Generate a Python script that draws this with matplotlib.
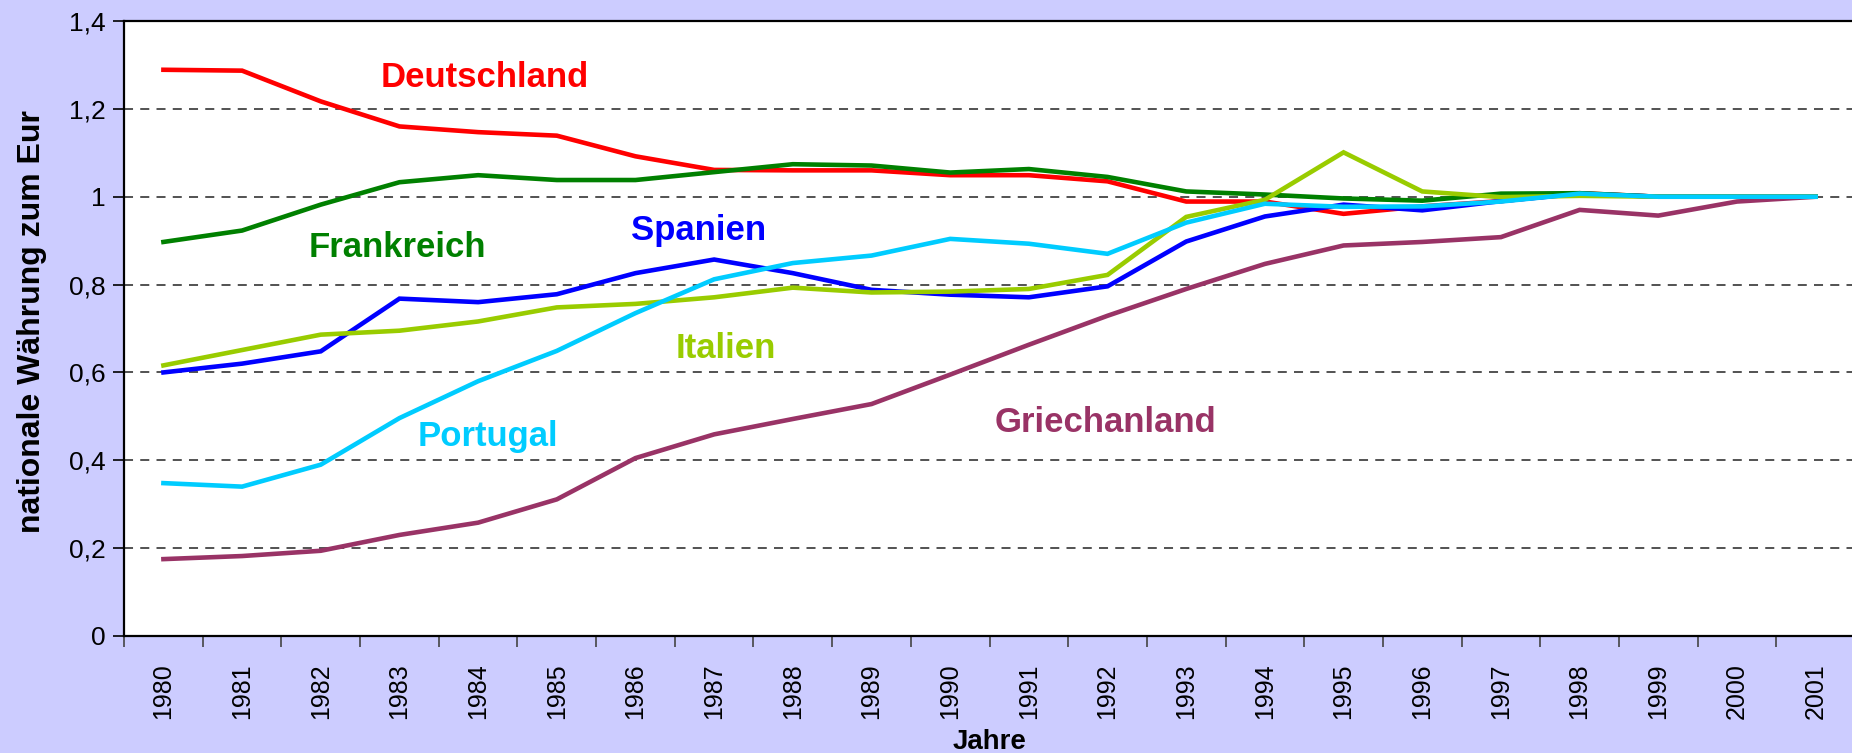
import matplotlib.pyplot as plt
import numpy as np

# Jahre (Kategorien)
jahre = [str(j) for j in range(1980, 2002)]

# Wechselkurse nationale Waehrung zum Euro
deutschland = [1.289, 1.287, 1.217, 1.160, 1.147, 1.139, 1.092, 1.061, 1.060, 1.060, 1.049,
               1.049, 1.035, 0.989, 0.989, 0.961, 0.978, 0.990, 1.008, 1.000, 1.000, 1.000]
frankreich = [0.897, 0.923, 0.982, 1.033, 1.049, 1.038, 1.038, 1.056, 1.074, 1.071, 1.055,
              1.063, 1.045, 1.012, 1.005, 0.996, 0.991, 1.007, 1.008, 1.000, 1.000, 1.000]
spanien = [0.600, 0.620, 0.648, 0.768, 0.760, 0.778, 0.826, 0.857, 0.826, 0.788, 0.777,
           0.771, 0.796, 0.898, 0.955, 0.982, 0.969, 0.990, 1.007, 1.000, 1.000, 1.000]
italien = [0.616, 0.651, 0.686, 0.695, 0.716, 0.748, 0.756, 0.771, 0.793, 0.782, 0.784,
           0.790, 0.822, 0.954, 0.993, 1.101, 1.012, 0.999, 1.002, 1.000, 1.000, 1.000]
portugal = [0.348, 0.340, 0.390, 0.496, 0.580, 0.649, 0.735, 0.812, 0.849, 0.866, 0.904,
            0.893, 0.870, 0.941, 0.984, 0.977, 0.978, 0.989, 1.007, 1.000, 1.000, 1.000]
griechenland = [0.175, 0.182, 0.194, 0.230, 0.258, 0.311, 0.405, 0.459, 0.494, 0.528, 0.595,
                0.663, 0.729, 0.790, 0.847, 0.889, 0.897, 0.908, 0.970, 0.957, 0.989, 1.000]

# (Name, Werte, Farbe, Label-Position)
serien = [
    ("Griechanland", griechenland, "#993366", (11.97, 0.485)),
    ("Deutschland", deutschland, "#FF0000", (4.08, 1.272)),
    ("Spanien", spanien, "#0000FF", (6.8, 0.923)),
    ("Frankreich", frankreich, "#008000", (2.97, 0.885)),
    ("Italien", italien, "#99CC00", (7.15, 0.655)),
    ("Portugal", portugal, "#00CCFF", (4.13, 0.455)),
]

fig = plt.figure(figsize=(18.52, 7.53), dpi=100)
fig.patch.set_facecolor("#CCCCFF")
ax = fig.add_axes([0.067, 0.1554, 0.9346, 0.8167])
ax.set_facecolor("white")

x = np.arange(len(jahre))
for name, werte, farbe, (lx, ly) in serien:
    ax.plot(x, werte, color=farbe, lw=3.3, solid_joinstyle="miter", zorder=3)
    ax.text(lx, ly, name, color=farbe, fontsize=25, fontweight="bold",
            family="Liberation Sans", ha="center", va="center")

# Achsen
ax.set_xlim(-0.5, 21.5)
ax.set_ylim(0, 1.4)
ax.set_yticks(np.arange(0, 1.41, 0.2))
ax.set_yticklabels(["0", "0,2", "0,4", "0,6", "0,8", "1", "1,2", "1,4"],
                   fontsize=19, family="Liberation Sans")
ax.set_xticks(x)
ax.set_xticklabels(jahre, rotation=90, fontsize=18, family="Liberation Sans",
                   va="bottom")
ax.set_xticks(np.arange(-0.5, 22, 1), minor=True)
ax.tick_params(axis="x", which="major", length=0, pad=60)
ax.tick_params(axis="x", which="minor", length=8, width=1.2, color="#444444")
ax.tick_params(axis="y", length=8, width=1.2, pad=5)

for yv in np.arange(0.2, 1.21, 0.2):
    ax.axhline(yv, color="#444444", lw=1.3, ls=(0, (5, 4)), zorder=1)

ax.spines["right"].set_visible(False)
for s in ["left", "bottom", "top"]:
    ax.spines[s].set_linewidth(1.6)

ax.set_ylabel("nationale Währung zum Eur", fontsize=23, fontweight="bold",
              family="Liberation Sans", va="center")
ax.yaxis.set_label_coords(-0.053, 0.511)
ax.set_xlabel("Jahre", fontsize=20, fontweight="bold", family="Liberation Sans",
              va="center")
ax.xaxis.set_label_coords(0.5, -0.172)

fig.savefig("out.png", dpi=100, facecolor=fig.get_facecolor())
